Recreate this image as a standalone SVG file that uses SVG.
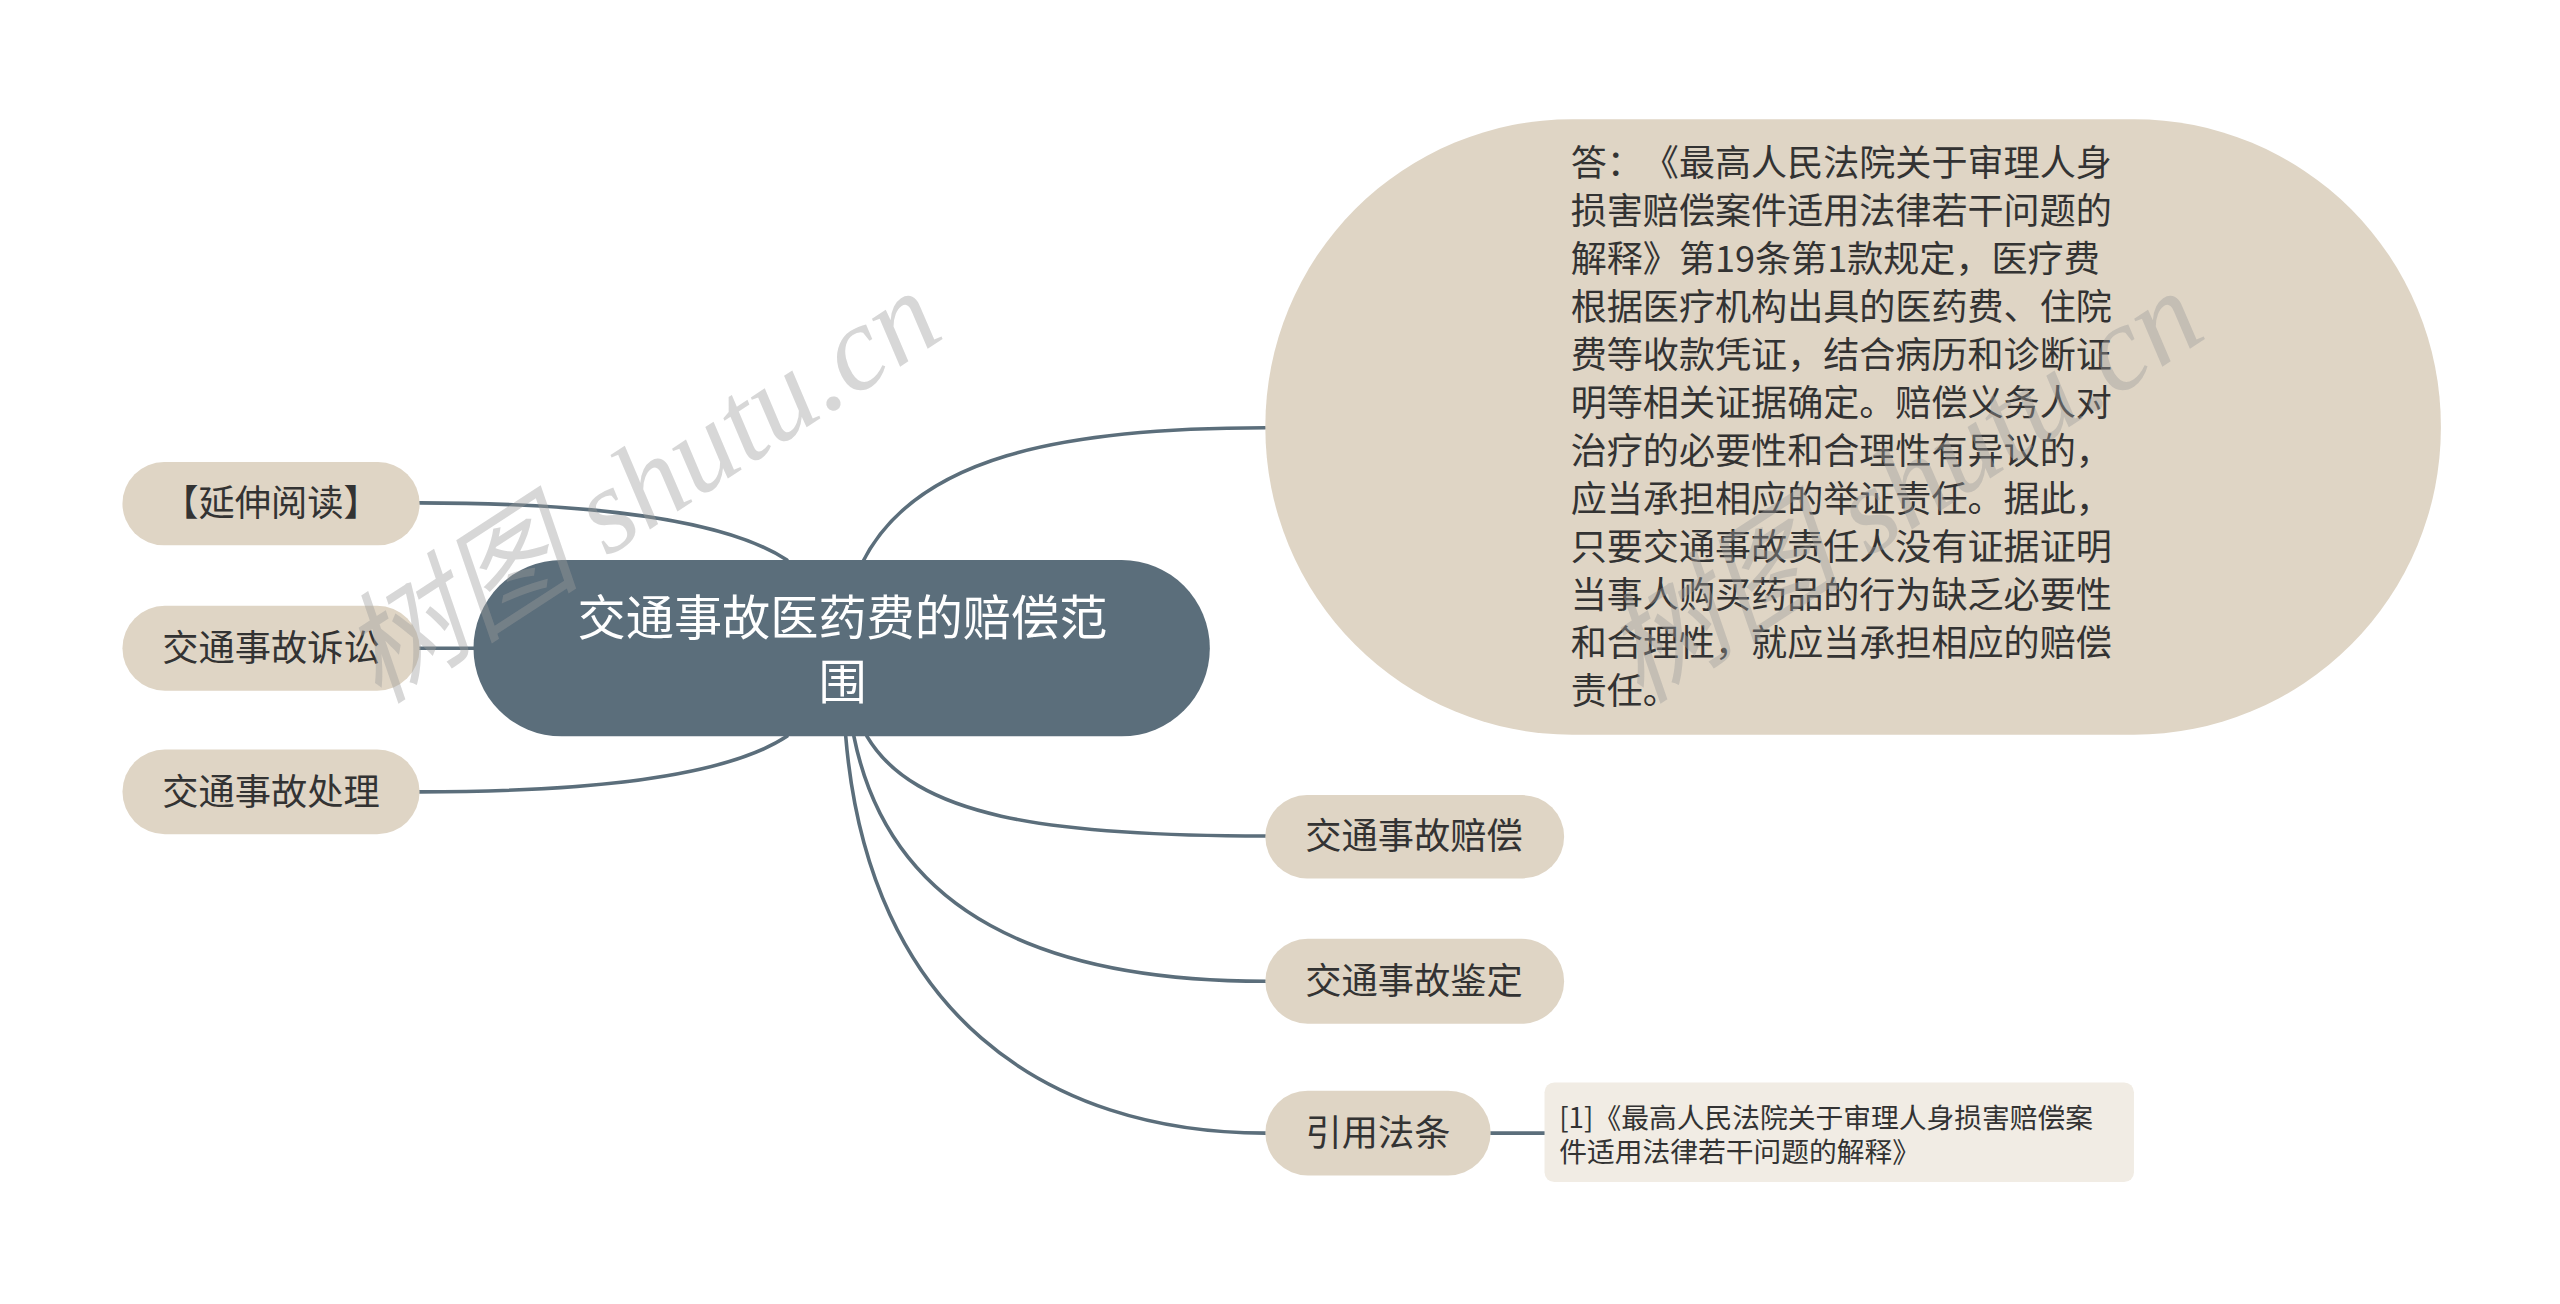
<svg xmlns="http://www.w3.org/2000/svg" width="2560" height="1304" viewBox="0 0 2560 1304">
<style>
.t{font-family:"Noto Sans CJK SC","Noto Sans",sans-serif;fill:#333333;text-spacing-trim:space-all}
.sub{fill:#dfd5c5}
.c{fill:none;stroke:#5b6e7b;stroke-width:2.2;stroke-linecap:round}
.wm{font-family:"Liberation Serif","Noto Sans CJK SC",serif;font-style:italic;fill:#9a9a9a;fill-opacity:0.4}
</style>
<rect width="2560" height="1304" fill="#ffffff"/>
<g transform="scale(1.6327)">
<g id="connectors">
<path class="c" d="M528,345 C560,280 650,262 775,262"/>
<path class="c" d="M257,308 C380,308 450,322 482,343"/>
<path class="c" d="M257,397 L292,397"/>
<path class="c" d="M257,485 C380,485 450,472 482,451"/>
<path class="c" d="M531,451 C560,500 640,512 775,512"/>
<path class="c" d="M523,451 C545,560 640,601 775,601"/>
<path class="c" d="M518,451 C532,620 640,694 775,694"/>
<path class="c" d="M913,694 L946,694"/>
</g>
<g id="root">
<rect x="290" y="343" width="451" height="108" rx="54" fill="#5b6e7b"/>
<text class="t" x="516" y="389" text-anchor="middle" font-size="29.5" style="fill:#ffffff">交通事故医药费的赔偿范</text>
<text class="t" x="516" y="428" text-anchor="middle" font-size="29.5" style="fill:#ffffff">围</text>
</g>
<g id="n-yanshen">
<rect class="sub" x="75" y="283" width="182" height="51" rx="25.5"/>
<text class="t" x="166" y="316" text-anchor="middle" font-size="22.2">【延伸阅读】</text>
</g>
<g id="n-susong">
<rect class="sub" x="75" y="371" width="182" height="52" rx="26"/>
<text class="t" x="166" y="405" text-anchor="middle" font-size="22.2">交通事故诉讼</text>
</g>
<g id="n-chuli">
<rect class="sub" x="75" y="459" width="182" height="52" rx="26"/>
<text class="t" x="166" y="493" text-anchor="middle" font-size="22.2">交通事故处理</text>
</g>
<g id="n-answer">
<rect class="sub" x="775" y="73" width="720" height="377" rx="188"/>
<text class="t" font-size="22.1">
<tspan x="962" y="108">答：《最高人民法院关于审理人身</tspan>
<tspan x="962" y="137.4">损害赔偿案件适用法律若干问题的</tspan>
<tspan x="962" y="166.8">解释》第19条第1款规定，医疗费</tspan>
<tspan x="962" y="196.2">根据医疗机构出具的医药费、住院</tspan>
<tspan x="962" y="225.6">费等收款凭证，结合病历和诊断证</tspan>
<tspan x="962" y="255">明等相关证据确定。赔偿义务人对</tspan>
<tspan x="962" y="284.4">治疗的必要性和合理性有异议的，</tspan>
<tspan x="962" y="313.8">应当承担相应的举证责任。据此，</tspan>
<tspan x="962" y="343.2">只要交通事故责任人没有证据证明</tspan>
<tspan x="962" y="372.6">当事人购买药品的行为缺乏必要性</tspan>
<tspan x="962" y="402">和合理性，就应当承担相应的赔偿</tspan>
<tspan x="962" y="431.4">责任。</tspan>
</text>
</g>
<g id="n-peichang">
<rect class="sub" x="775" y="487" width="183" height="51" rx="25.5"/>
<text class="t" x="866" y="520" text-anchor="middle" font-size="22.2">交通事故赔偿</text>
</g>
<g id="n-jianding">
<rect class="sub" x="775" y="575" width="183" height="52" rx="26"/>
<text class="t" x="866" y="609" text-anchor="middle" font-size="22.2">交通事故鉴定</text>
</g>
<g id="n-fatiao">
<rect class="sub" x="775" y="668" width="138" height="52" rx="26"/>
<text class="t" x="844" y="702" text-anchor="middle" font-size="22.2">引用法条</text>
</g>
<g id="n-note">
<rect x="946" y="663" width="361" height="61" rx="6" fill="#f1ece4"/>
<text class="t" font-size="17">
<tspan x="955" y="691">[1]《最高人民法院关于审理人身损害赔偿案</tspan>
<tspan x="955" y="712">件适用法律若干问题的解释》</tspan>
</text>
</g>
<g id="watermark">
<text class="wm" x="232" y="432" font-size="74" transform="rotate(-33 232 432)">树图 shutu.cn</text>
<text class="wm" x="1005" y="432" font-size="74" transform="rotate(-33 1005 432)">树图 shutu.cn</text>
</g>
</g>
</svg>
